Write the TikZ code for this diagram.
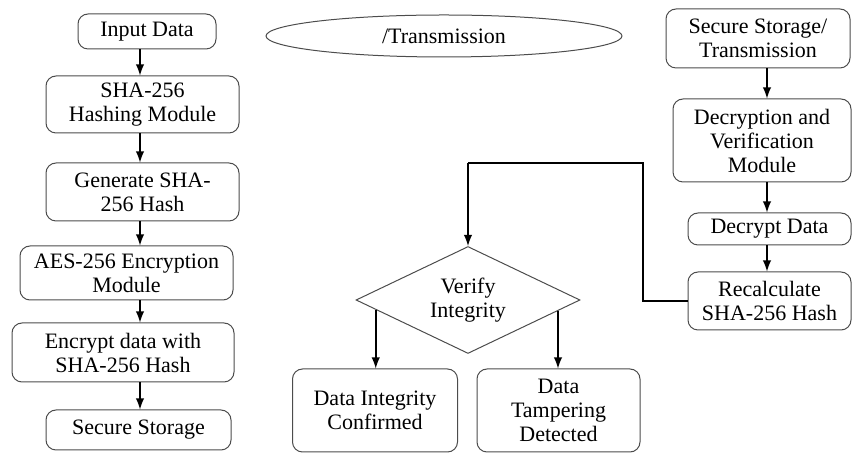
\documentclass[tikz,border=0pt]{standalone}
\usepackage{fontspec}
\setmainfont{Liberation Serif}
\usetikzlibrary{arrows,positioning,shapes,calc}

\begin{document}
\begin{tikzpicture}[
        x=0.5pt, y=-0.5pt,
        font=\fontsize{11}{12}\selectfont,
        block/.style={rectangle, rounded corners=5pt, draw=black!70, line width=0.5pt, align=center, inner sep=2pt},
        decision/.style={diamond, aspect=2, draw=black!70, line width=0.5pt, align=center, inner sep=0pt, minimum width=112pt, minimum height=53.5pt},
        term/.style={ellipse, draw=black!70, line width=0.5pt, minimum width=178pt, minimum height=21pt},
        arrow/.style={-latex, line width=0.9pt},
        link/.style={line width=0.6pt}
    ]
        \useasboundingbox (0,0) rectangle (852,453);

        % Encryption side
        \node[block, minimum width=69pt, minimum height=17.5pt] (input) at (147,31.5) {Input Data};
        \node[block, minimum width=96.5pt, minimum height=28.5pt] (hashmod) at (142.5,104.5) {SHA-256\\Hashing Module};
        \node[block, minimum width=96.5pt, minimum height=29pt] (genhash) at (142.5,192) {Generate SHA-\\256 Hash};
        \node[block, minimum width=106.5pt, minimum height=27pt] (aesmod) at (126.5,273) {AES-256 Encryption\\Module};
        \node[block, minimum width=111pt, minimum height=29.5pt] (encrypt) at (123,352.5) {Encrypt data with\\SHA-256 Hash};
        \node[block, minimum width=92.5pt, minimum height=20pt] (store) at (138.5,430) {Secure Storage};

        % Stray label
        \node[term] (trans) at (444,36) {/Transmission};

        % Decryption side
        \node[block, minimum width=92pt, minimum height=29.5pt] (received) at (758,38.5) {Secure Storage/\\Transmission};
        \node[block, minimum width=89pt, minimum height=41.5pt] (decmod) at (762,140.5) {Decryption and\\Verification\\Module};
        \node[block, minimum width=81.5pt, minimum height=16pt] (decrypt) at (769.5,229) {Decrypt Data};
        \node[block, minimum width=81.5pt, minimum height=29pt] (recalc) at (769.5,301) {Recalculate\\SHA-256 Hash};

        % Check and outcomes
        \node[decision] (verify) at (468,300) {Verify\\Integrity};
        \node[block, minimum width=82.5pt, minimum height=41.5pt] (confirmed) at (375,410.5) {Data Integrity\\Confirmed};
        \node[block, minimum width=81.5pt, minimum height=41.5pt] (tampered) at (558.5,410.5) {Data\\Tampering\\Detected};

        % Arrow columns
        \coordinate (lcol) at (140,0);
        \coordinate (rcol) at (767,0);

        \draw[arrow] (input.south -| lcol) -- (hashmod.north -| lcol);
        \draw[arrow] (hashmod.south -| lcol) -- (genhash.north -| lcol);
        \draw[arrow] (genhash.south -| lcol) -- (aesmod.north -| lcol);
        \draw[arrow] (aesmod.south -| lcol) -- (encrypt.north -| lcol);
        \draw[arrow] (encrypt.south -| lcol) -- (store.north -| lcol);

        \draw[arrow] (received.south -| rcol) -- (decmod.north -| rcol);
        \draw[arrow] (decmod.south -| rcol) -- (decrypt.north -| rcol);
        \draw[arrow] (decrypt.south -| rcol) -- (recalc.north -| rcol);

        % Feedback to the check
        \coordinate (loopR) at (643,163);
        \coordinate (loopL) at (verify.north |- loopR);
        \draw[link] (recalc.west) -| (loopR) -- (loopL);
        \draw[arrow] (loopL) -- (verify.north);

        % Outcomes
        \coordinate (outL) at ($(verify.west)!0.18!(verify.south)$);
        \coordinate (outR) at ($(verify.east)!0.2!(verify.south)$);
        \draw[arrow] (outL) -- (outL |- confirmed.north);
        \draw[arrow] (outR) -- (outR |- tampered.north);
    \end{tikzpicture}
\end{document}
